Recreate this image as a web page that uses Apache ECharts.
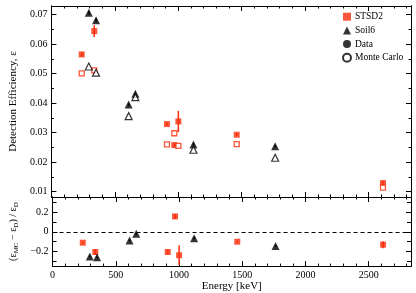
<!DOCTYPE html>
<html><head><meta charset="utf-8">
<script src="https://cdn.jsdelivr.net/npm/echarts@6/dist/echarts.min.js"></script>
<style>html,body{margin:0;padding:0;background:#fff}#c{width:416px;height:293px}</style>
</head><body><div id="c"></div>
<script>
// ---- data ----
const energySTSD2 = [239, 338, 911, 969, 1001, 1461, 2614];
const effSTSD2Data = [0.0565, 0.0644, 0.0329, 0.0258, 0.0338, 0.0293, 0.0129];
const errSTSD2Data = [0.0007, 0.0020, 0.0005, 0.0005, 0.0036, 0.0005, 0.0008];
const effSTSD2MC = [0.0501, 0.0511, 0.0260, 0.0298, 0.0255, 0.0261, 0.0114];
const ratioSTSD2 = [-0.11, -0.204, -0.204, 0.156, -0.237, -0.10, -0.13];
const ratioErrSTSD2 = [0.01, 0.03, 0.02, 0.025, 0.10, 0.01, 0.035];

const energySoil6 = [295, 352, 609, 662, 1120, 1764];
const effSoil6Data = [0.0706, 0.0681, 0.0395, 0.0432, 0.0260, 0.0254];
const errSoil6Data = [0.0006, 0.0006, 0.0004, 0.0004, 0.0004, 0.0004];
const effSoil6MC = [0.0524, 0.0503, 0.0356, 0.0420, 0.0242, 0.0215];
const ratioSoil6 = [-0.25, -0.257, -0.087, -0.02, -0.064, -0.144];
const ratioErrSoil6 = [0.01, 0.01, 0.01, 0.01, 0.01, 0.01];

const xMajor = [0, 500, 1000, 1500, 2000, 2500];
const xMinor = [100,200,300,400,600,700,800,900,1100,1200,1300,1400,1600,1700,1800,1900,2100,2200,2300,2400,2600,2700,2800];
const yTopMajor = [0.01, 0.02, 0.03, 0.04, 0.05, 0.06, 0.07];
const yTopMinor = [0.015, 0.025, 0.035, 0.045, 0.055, 0.065];
const yBotMajor = [-0.2, 0, 0.2];
const yBotMinor = [-0.3, -0.1, 0.1, 0.3];

const X_MIN = 0, X_MAX = 2835;
const YT_MIN = 0.0082, YT_MAX = 0.0729;
const YB_MIN = -0.347, YB_MAX = 0.353;

const RED = '#fa2d0a';
const FONT = 'Liberation Serif';

const chart = echarts.init(document.getElementById('c'), null, {renderer: 'canvas'});

const xAxes = [], yAxes = [];
function addX(grid, pos, ticks, len, labels) {
  xAxes.push({
    type: 'value', gridIndex: grid, position: pos, min: X_MIN, max: X_MAX,
    axisLine: {show: true, onZero: false, lineStyle: {color: '#000', width: 1}},
    axisTick: {show: true, inside: true, length: len, customValues: ticks, lineStyle: {color: '#000', width: 1}},
    axisLabel: labels ? {show: true, customValues: xMajor, fontFamily: FONT, fontSize: 10, color: '#000', margin: 4, formatter: v => String(v)} : {show: false},
    splitLine: {show: false}
  });
  return xAxes.length - 1;
}
function addY(grid, pos, min, max, ticks, len, labels, fmt) {
  yAxes.push({
    type: 'value', gridIndex: grid, position: pos, min: min, max: max,
    axisLine: {show: true, onZero: false, lineStyle: {color: '#000', width: 1}},
    axisTick: {show: true, inside: true, length: len, customValues: ticks, lineStyle: {color: '#000', width: 1}},
    axisLabel: labels ? {show: true, customValues: labels, fontFamily: FONT, fontSize: 10, color: '#000', margin: 4, formatter: fmt} : {show: false},
    splitLine: {show: false}
  });
  return yAxes.length - 1;
}

// top panel axes
const xT = addX(0, 'bottom', xMajor, 5, false);
addX(0, 'bottom', xMinor, 2.5, false);
addX(0, 'top', xMajor, 5, false);
addX(0, 'top', xMinor, 2.5, false);
const yT = addY(0, 'left', YT_MIN, YT_MAX, yTopMajor, 5, yTopMajor, v => v.toFixed(2));
addY(0, 'left', YT_MIN, YT_MAX, yTopMinor, 2.5, null);
addY(0, 'right', YT_MIN, YT_MAX, yTopMajor, 5, null);
addY(0, 'right', YT_MIN, YT_MAX, yTopMinor, 2.5, null);
// bottom panel axes
const xB = addX(1, 'bottom', xMajor, 5, true);
addX(1, 'bottom', xMinor, 2.5, false);
addX(1, 'top', xMajor, 5, false);
addX(1, 'top', xMinor, 2.5, false);
const yB = addY(1, 'left', YB_MIN, YB_MAX, yBotMajor, 5, yBotMajor, v => (Math.abs(v) < 1e-9 ? '0' : String(Math.round(v*10)/10).replace('-', '\u2212')));
addY(1, 'left', YB_MIN, YB_MAX, yBotMinor, 4, null);
addY(1, 'right', YB_MIN, YB_MAX, yBotMajor, 5, null);
addY(1, 'right', YB_MIN, YB_MAX, yBotMinor, 4, null);

// axis titles
yAxes[yT].name = 'Detection Efficiency, ε';
yAxes[yT].nameLocation = 'middle';
yAxes[yT].nameGap = 30;
yAxes[yT].nameTextStyle = {fontFamily: FONT, fontSize: 11, color: '#000'};
yAxes[yB].name = '{n|(ε}{s|MC}{n| − ε}{s|D}{n|) / ε}{s|D}';
yAxes[yB].nameLocation = 'middle';
yAxes[yB].nameGap = 31;
yAxes[yB].nameTextStyle = {fontFamily: FONT, fontSize: 10, color: '#000',
  rich: {n: {fontFamily: FONT, fontSize: 10, color: '#000'}, s: {fontFamily: FONT, fontSize: 7, color: '#000', verticalAlign: 'bottom', padding: [6, 0, 0, 0]}}};
xAxes[xB].name = 'Energy [keV]';
xAxes[xB].nameLocation = 'middle';
xAxes[xB].nameGap = 13;
xAxes[xB].nameTextStyle = {fontFamily: FONT, fontSize: 11, color: '#000', verticalAlign: 'top'};

function zip(a, b) { return a.map((v, i) => [v, b[i]]); }
function errData(x, y, e) { return x.map((v, i) => [v, y[i] - e[i], y[i] + e[i]]); }
function errRender(color) {
  return function (params, api) {
    const p1 = api.coord([api.value(0), api.value(1)]);
    const p2 = api.coord([api.value(0), api.value(2)]);
    return {type: 'line', shape: {x1: p1[0], y1: p1[1], x2: p2[0], y2: p2[1]}, style: {stroke: color, lineWidth: 1.5}};
  };
}

const series = [
  // top panel
  {type: 'custom', name: 'errS', xAxisIndex: xT, yAxisIndex: yT, renderItem: errRender(RED), data: errData(energySTSD2, effSTSD2Data, errSTSD2Data), encode: {x: 0, y: [1, 2]}, z: 1, silent: true},
  {type: 'custom', name: 'errT', xAxisIndex: xT, yAxisIndex: yT, renderItem: errRender('#000'), data: errData(energySoil6, effSoil6Data, errSoil6Data), encode: {x: 0, y: [1, 2]}, z: 1, silent: true},
  {type: 'scatter', name: 'STSD2', xAxisIndex: xT, yAxisIndex: yT, symbol: 'rect', symbolSize: 6, itemStyle: {color: RED}, data: zip(energySTSD2, effSTSD2Data), z: 3},
  {type: 'scatter', name: 'STSD2 MC', xAxisIndex: xT, yAxisIndex: yT, symbol: 'rect', symbolSize: 5, itemStyle: {color: '#fff', borderColor: RED, borderWidth: 1.3}, data: zip(energySTSD2, effSTSD2MC), z: 3},
  {type: 'scatter', name: 'Soil6', xAxisIndex: xT, yAxisIndex: yT, symbol: 'triangle', symbolSize: 8, itemStyle: {color: '#000'}, data: zip(energySoil6, effSoil6Data), z: 3},
  {type: 'scatter', name: 'Soil6 MC', xAxisIndex: xT, yAxisIndex: yT, symbol: 'triangle', symbolSize: 7, itemStyle: {color: '#fff', borderColor: '#000', borderWidth: 1.2}, data: zip(energySoil6, effSoil6MC), z: 3},
  {type: 'scatter', name: 'Data', xAxisIndex: xT, yAxisIndex: yT, symbol: 'circle', symbolSize: 7, itemStyle: {color: '#000'}, data: []},
  {type: 'scatter', name: 'Monte Carlo', xAxisIndex: xT, yAxisIndex: yT, symbol: 'circle', symbolSize: 7, itemStyle: {color: '#fff', borderColor: '#000', borderWidth: 1}, data: []},
  // bottom panel
  {type: 'scatter', name: 'zero', xAxisIndex: xB, yAxisIndex: yB, data: [], silent: true,
   markLine: {silent: true, symbol: 'none', label: {show: false}, lineStyle: {color: '#000', type: [4, 3], width: 1}, data: [{yAxis: 0}], animation: false}},
  {type: 'custom', name: 'errSr', xAxisIndex: xB, yAxisIndex: yB, renderItem: errRender(RED), data: errData(energySTSD2, ratioSTSD2, ratioErrSTSD2), encode: {x: 0, y: [1, 2]}, z: 1, silent: true},
  {type: 'custom', name: 'errTr', xAxisIndex: xB, yAxisIndex: yB, renderItem: errRender('#000'), data: errData(energySoil6, ratioSoil6, ratioErrSoil6), encode: {x: 0, y: [1, 2]}, z: 1, silent: true},
  {type: 'scatter', name: 'STSD2 r', xAxisIndex: xB, yAxisIndex: yB, symbol: 'rect', symbolSize: 6, itemStyle: {color: RED}, data: zip(energySTSD2, ratioSTSD2), z: 3},
  {type: 'scatter', name: 'Soil6 r', xAxisIndex: xB, yAxisIndex: yB, symbol: 'triangle', symbolSize: 8, itemStyle: {color: '#000'}, data: zip(energySoil6, ratioSoil6), z: 3}
];

chart.setOption({
  animation: false,
  grid: [
    {left: 40, right: 5, top: 6, height: 191, containLabel: false},
    {left: 40, right: 5, top: 197, height: 70, containLabel: false}
  ],
  xAxis: xAxes,
  yAxis: yAxes,
  legend: {
    orient: 'vertical', left: 342, top: 11.7, padding: 0, itemWidth: 8, itemHeight: 8, itemGap: 3.7,
    data: ['STSD2', 'Soil6', 'Data', 'Monte Carlo'],
    textStyle: {fontFamily: FONT, fontSize: 9.5, lineHeight: 8, color: '#000', padding: [0, 0, 0, -1]},
    selectedMode: false
  },
  series: series
});
</script></body></html>
